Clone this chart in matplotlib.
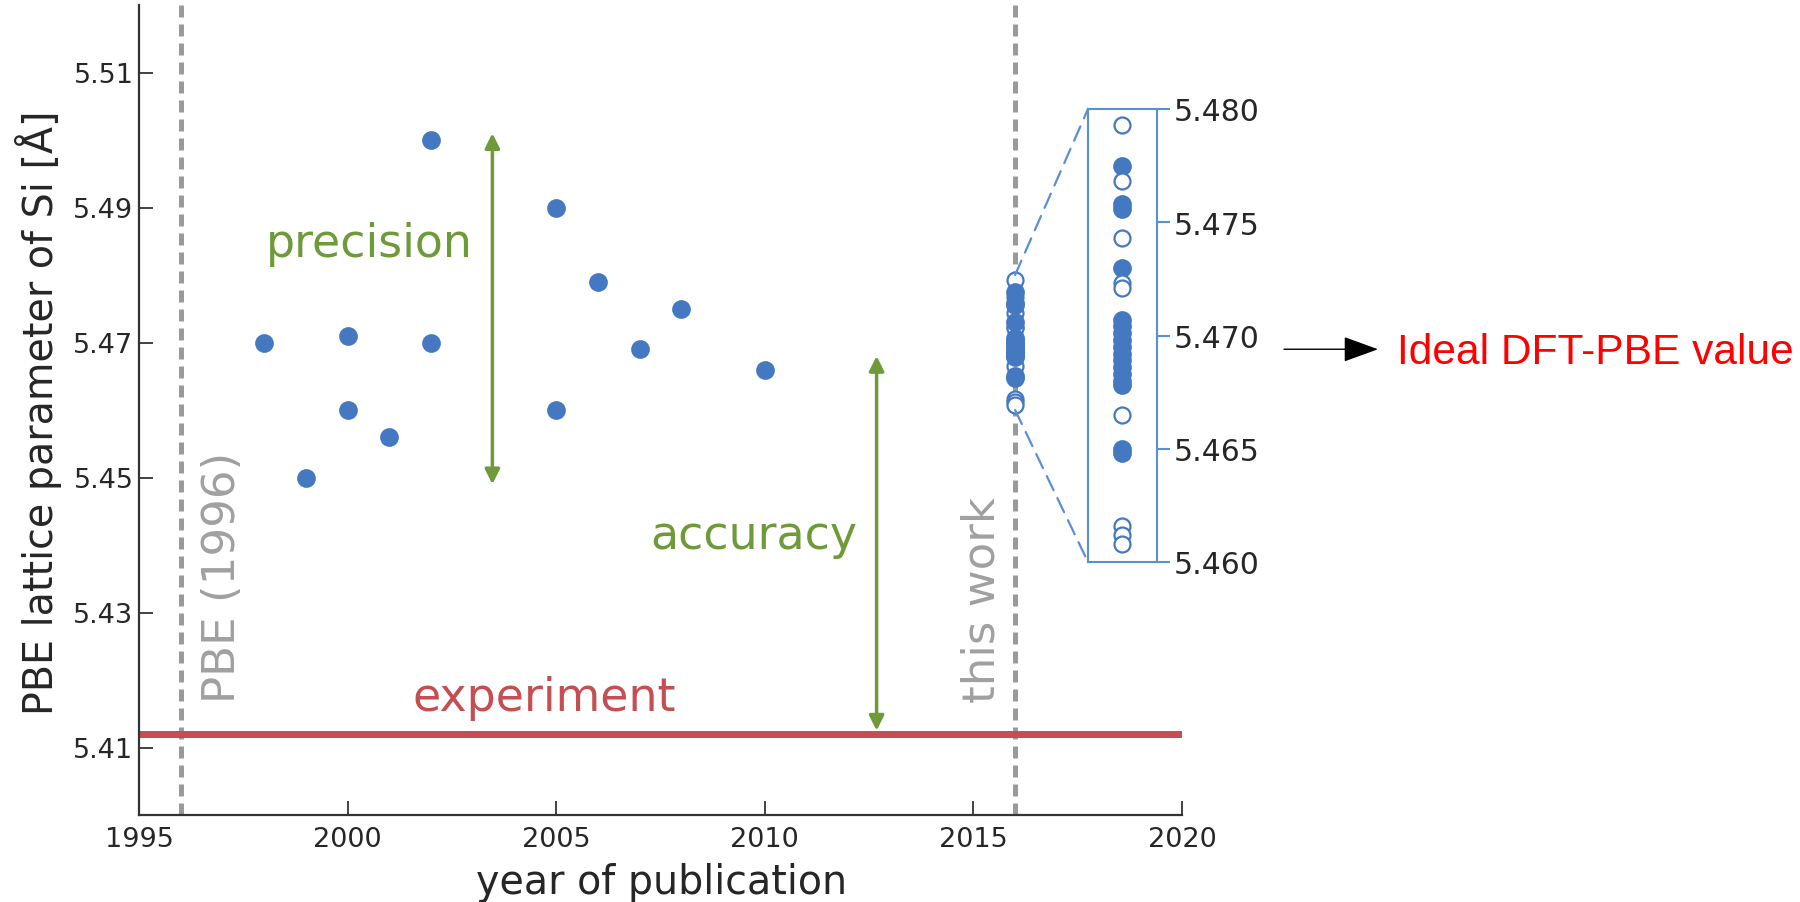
import matplotlib
matplotlib.use("Agg")
import matplotlib.pyplot as plt
from matplotlib.patches import ConnectionPatch, FancyArrowPatch
from matplotlib.transforms import blended_transform_factory

# Published PBE lattice parameters of Si by year
years = [1998, 1999, 2000, 2000, 2001, 2002, 2002, 2005, 2005, 2006, 2007, 2008, 2010]
lattice = [5.470, 5.450, 5.471, 5.460, 5.456, 5.500, 5.470, 5.490, 5.460, 5.479, 5.469, 5.475, 5.466]

# This work: results from the different codes (filled / open markers)
this_work_year = 2016
pbe_year = 1996
work_filled = [5.4775, 5.4758, 5.4756, 5.4730, 5.4707, 5.4704, 5.4701, 5.4698, 5.4695,
               5.4692, 5.4689, 5.4686, 5.4683, 5.4680, 5.4678, 5.4650, 5.4648]
work_open = [5.4793, 5.4768, 5.4743, 5.4723, 5.4721, 5.4665, 5.4616, 5.4612, 5.4608]

experiment_value = 5.412
ideal_value = 5.469

x_ticks = [1995, 2000, 2005, 2010, 2015, 2020]
y_ticks = [5.41, 5.43, 5.45, 5.47, 5.49, 5.51]
inset_ticks = [5.460, 5.465, 5.470, 5.475, 5.480]

BLUE = '#4479c2'
GREEN = '#6f9a3a'
RED = '#c44e52'
GRAY = '#9a9a9a'
TEXT = '#262626'
FRAME = '#5b8fd4'

plt.rcParams['font.family'] = ['DejaVu Sans']

fig = plt.figure(figsize=(18, 9.03), dpi=100)
ax = fig.add_axes([139 / 1800, 1 - 816 / 903, 1043 / 1800, 810 / 903])
ax.set_xlim(1995, 2020)
ax.set_ylim(5.40, 5.52)
for side in ('top', 'right'):
    ax.spines[side].set_visible(False)
for side in ('left', 'bottom'):
    ax.spines[side].set_color('#333333')
    ax.spines[side].set_linewidth(1.6)
ax.set_xticks(x_ticks)
ax.set_yticks(y_ticks)
ax.set_yticklabels([f'{v:.2f}' for v in y_ticks])
ax.tick_params(direction='in', length=10, width=1.3, color='#333333',
               labelsize=19.5, labelcolor=TEXT)
ax.tick_params(axis='x', pad=8)
ax.tick_params(axis='y', pad=4)

# Reference lines
ax.axvline(pbe_year, color=GRAY, lw=3.6, dashes=(2.4, 1.4), zorder=1)
ax.axvline(this_work_year, color=GRAY, lw=3.6, dashes=(2.4, 1.4), zorder=1)
ax.axhline(experiment_value, color=RED, lw=5, zorder=2)

# Data points
ax.plot(years, lattice, 'o', ms=13.5, color=BLUE, mew=0, zorder=3)
ax.plot([this_work_year] * len(work_open), work_open, 'o', ms=11.5,
        mfc='white', mec=BLUE, mew=1.6, zorder=3)
ax.plot([this_work_year] * len(work_filled), work_filled, 'o', ms=13.5,
        color=BLUE, mew=0, zorder=4)

# Annotations
ax.text(1997.0, 5.4167, 'PBE (1996)', rotation=90, ha='center', va='bottom',
        color='#a0a0a0', fontsize=32.5)
ax.text(2015.2, 5.4167, 'this work', rotation=90, ha='center', va='bottom',
        color='#a0a0a0', fontsize=32.5)
ax.text(2004.72, 5.4155, 'experiment', ha='center', va='baseline', color=RED, fontsize=33)
ax.text(2000.51, 5.4828, 'precision', ha='center', va='baseline', color=GREEN, fontsize=33)
ax.text(2009.73, 5.4395, 'accuracy', ha='center', va='baseline', color=GREEN, fontsize=33)

arrow_kw = dict(arrowstyle='<|-|>', color=GREEN, lw=2.5, mutation_scale=22,
                shrinkA=0, shrinkB=0)
ax.annotate('', xy=(2003.47, min(lattice) - 0.001), xytext=(2003.47, max(lattice) + 0.001),
            arrowprops=arrow_kw)
ax.annotate('', xy=(2012.68, experiment_value + 0.0005), xytext=(2012.68, ideal_value - 0.001),
            arrowprops=arrow_kw)

ax.set_xlabel('year of publication', fontsize=28.5, color=TEXT)
ax.set_ylabel('PBE lattice parameter of Si [Å]', fontsize=28.5, color=TEXT)
ax.xaxis.set_label_coords(0.5014, -0.058)
ax.yaxis.set_label_coords(-0.0738, 0.498)

# Zoomed inset of this work
axin = fig.add_axes([1088 / 1800, 1 - 563 / 903, 69 / 1800, 453 / 903])
axin.set_xlim(0, 1)
axin.set_ylim(inset_ticks[0], inset_ticks[-1])
axin.plot([0.49] * len(work_filled), work_filled, 'o', ms=13.5, color=BLUE, mew=0, zorder=3)
axin.plot([0.49] * len(work_open), work_open, 'o', ms=11.5, mfc='white', mec=BLUE,
          mew=1.6, zorder=4)
for sp in axin.spines.values():
    sp.set_color(FRAME)
    sp.set_linewidth(1.5)
axin.set_xticks([])
axin.yaxis.tick_right()
axin.set_yticks(inset_ticks)
axin.set_yticklabels([f'{v:.3f}' for v in inset_ticks])
axin.tick_params(axis='y', direction='out', length=9, width=1.5, color=FRAME,
                 labelsize=21.5, labelcolor=TEXT, pad=3)

for y_main, y_in in ((inset_ticks[-1], 1), (inset_ticks[0], 0)):
    con = ConnectionPatch(xyA=(this_work_year, y_main), coordsA=ax.transData,
                          xyB=(0, y_in), coordsB=axin.transAxes,
                          color=FRAME, lw=1.6, linestyle=(0, (7, 4)))
    fig.add_artist(con)

# Ideal value pointer outside the axes
trans = blended_transform_factory(fig.transFigure, ax.transData)
fig.add_artist(FancyArrowPatch((1284 / 1800, ideal_value), (1378 / 1800, ideal_value),
                               transform=trans,
                               arrowstyle='-|>,head_length=22,head_width=8',
                               mutation_scale=1, color='black', lw=1,
                               shrinkA=0, shrinkB=0))
fig.text(1397 / 1800, 1 - 364 / 903, 'Ideal DFT-PBE value', color='red', fontsize=30.6,
         family='Liberation Sans', ha='left', va='baseline')

fig.savefig('out.png', dpi=100)
